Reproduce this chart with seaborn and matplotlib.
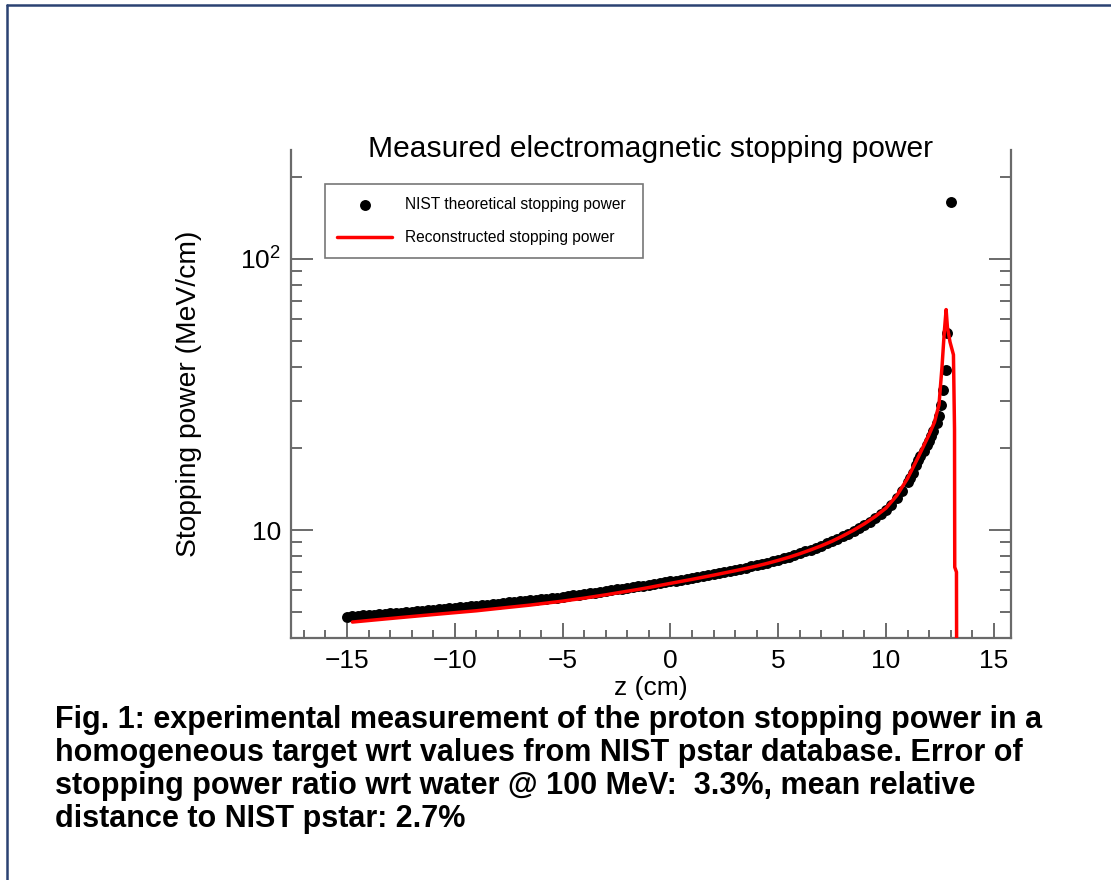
import numpy as np
import pandas as pd
import seaborn as sns
from matplotlib import pyplot as plt
from matplotlib.lines import Line2D
from matplotlib.ticker import MultipleLocator, LogLocator, NullFormatter

# NIST pstar theoretical stopping power
nist_z = [-15.0, -14.75, -14.5, -14.25, -14.0, -13.75, -13.5, -13.25, -13.0, -12.75,
          -12.5, -12.25, -12.0, -11.75, -11.5, -11.25, -11.0, -10.75, -10.5, -10.25,
          -10.0, -9.75, -9.5, -9.25, -9.0, -8.75, -8.5, -8.25, -8.0, -7.75,
          -7.5, -7.25, -7.0, -6.75, -6.5, -6.25, -6.0, -5.75, -5.5, -5.25,
          -5.0, -4.75, -4.5, -4.25, -4.0, -3.75, -3.5, -3.25, -3.0, -2.75,
          -2.5, -2.25, -2.0, -1.75, -1.5, -1.25, -1.0, -0.75, -0.5, -0.25,
          0.0, 0.25, 0.5, 0.75, 1.0, 1.25, 1.5, 1.75, 2.0, 2.25,
          2.5, 2.75, 3.0, 3.25, 3.5, 3.75, 4.0, 4.25, 4.5, 4.75,
          5.0, 5.25, 5.5, 5.75, 6.0, 6.25, 6.5, 6.75, 7.0, 7.25,
          7.5, 7.75, 8.0, 8.25, 8.5, 8.75, 9.0, 9.25, 9.5, 9.75,
          10.0, 10.25, 10.5, 10.75, 11.0, 11.1, 11.25, 11.4, 11.5, 11.6,
          11.75, 11.9, 12.0, 12.1, 12.2, 12.35, 12.46, 12.54, 12.66, 12.79,
          12.85, 13.02]
nist_sp = [4.79, 4.81, 4.83, 4.845, 4.86, 4.875, 4.89, 4.91, 4.93, 4.945,
           4.96, 4.98, 5.00, 5.02, 5.04, 5.06, 5.08, 5.10, 5.12, 5.14,
           5.16, 5.185, 5.21, 5.235, 5.26, 5.28, 5.30, 5.325, 5.35, 5.38,
           5.41, 5.435, 5.46, 5.48, 5.50, 5.525, 5.55, 5.58, 5.61, 5.64,
           5.67, 5.71, 5.75, 5.78, 5.81, 5.845, 5.88, 5.92, 5.96, 6.00,
           6.04, 6.08, 6.12, 6.16, 6.20, 6.245, 6.29, 6.335, 6.38, 6.425,
           6.47, 6.515, 6.56, 6.61, 6.66, 6.715, 6.77, 6.825, 6.88, 6.94,
           7.00, 7.065, 7.13, 7.20, 7.27, 7.345, 7.42, 7.505, 7.59, 7.685,
           7.78, 7.88, 7.98, 8.10, 8.22, 8.345, 8.47, 8.615, 8.76, 8.925,
           9.09, 9.285, 9.48, 9.70, 9.92, 10.18, 10.44, 10.72, 11.06, 11.43,
           11.83, 12.36, 13.09, 13.91, 14.98, 15.5, 16.2, 17.4, 18.2, 18.8,
           19.5, 20.6, 21.3, 22.2, 23.2, 24.8, 26.4, 28.9, 32.8, 38.9,
           53.2, 162.6]

# reconstructed stopping power
reco_z = [-14.75, -14.5, -14.0, -13.5, -13.0, -12.5, -12.0, -11.5, -11.0, -10.5,
          -10.0, -9.5, -9.0, -8.5, -8.0, -7.5, -7.0, -6.5, -6.0, -5.5,
          -5.0, -4.5, -4.0, -3.5, -3.0, -2.5, -2.0, -1.5, -1.0, -0.5,
          0.0, 0.5, 1.0, 1.5, 2.0, 2.5, 3.0, 3.5, 4.0, 4.5,
          5.0, 5.5, 6.0, 6.5, 7.0, 7.5, 8.0, 8.5, 9.0, 9.5,
          10.0, 10.5, 11.0, 11.5, 12.0, 12.25, 12.46, 12.6, 12.7, 12.79,
          12.85, 12.97, 13.13, 13.18, 13.19, 13.27, 13.28]
reco_sp = [4.58, 4.60, 4.64, 4.68, 4.72, 4.76, 4.80, 4.84, 4.88, 4.92,
           4.96, 5.00, 5.04, 5.09, 5.14, 5.19, 5.24, 5.29, 5.35, 5.41,
           5.47, 5.54, 5.61, 5.69, 5.77, 5.86, 5.95, 6.04, 6.14, 6.25,
           6.36, 6.47, 6.58, 6.70, 6.82, 6.95, 7.08, 7.22, 7.37, 7.54,
           7.73, 7.94, 8.18, 8.45, 8.75, 9.10, 9.52, 9.99, 10.55, 11.22,
           12.05, 13.4, 15.5, 18.6, 22.5, 25.0, 29.0, 40.0, 53.0, 65.0,
           56.0, 49.4, 44.3, 23.5, 7.3, 7.0, 3.0]

x_ticks = [-15, -10, -5, 0, 5, 10, 15]
y_ticks = [10, 100]
y_tick_labels = ["10", "10$^2$"]

caption = [
    "Fig. 1: experimental measurement of the proton stopping power in a",
    "homogeneous target wrt values from NIST pstar database. Error of",
    "stopping power ratio wrt water @ 100 MeV:  3.3%, mean relative",
    "distance to NIST pstar: 2.7%",
]


def plot_stopping_power():
    nist = pd.DataFrame({"z": nist_z, "sp": nist_sp})
    reco = pd.DataFrame({"z": reco_z, "sp": reco_sp})

    sns.set_style("ticks")
    plt.rcParams["font.family"] = ["Liberation Sans", "DejaVu Sans"]
    plt.rcParams["mathtext.default"] = "regular"
    plt.rcParams["text.color"] = "black"
    plt.rcParams["axes.labelcolor"] = "black"
    plt.rcParams["xtick.labelcolor"] = "black"
    plt.rcParams["ytick.labelcolor"] = "black"

    fig = plt.figure(figsize=(11.11, 8.8), dpi=100)
    ax = fig.add_axes([291 / 1111, 1 - 638 / 880, 720 / 1111, 488 / 880])

    sns.scatterplot(data=nist, x="z", y="sp", ax=ax, color="black", s=62,
                    linewidth=0, zorder=2, label="NIST theoretical stopping power")
    sns.lineplot(data=reco, x="z", y="sp", ax=ax, color="red", linewidth=2.5,
                 estimator=None, sort=False, zorder=3,
                 label="Reconstructed stopping power")

    ax.set_yscale("log")
    ax.set_xlim(-17.6, 15.8)
    ax.set_ylim(4.0, 252)
    ax.set_xticks(x_ticks)
    ax.xaxis.set_minor_locator(MultipleLocator(1))
    ax.set_yticks(y_ticks)
    ax.set_yticklabels(y_tick_labels)
    ax.yaxis.set_minor_locator(LogLocator(base=10, subs=np.arange(2, 10)))
    ax.yaxis.set_minor_formatter(NullFormatter())

    grey = "#6a6a6a"
    for side in ["left", "bottom", "right"]:
        ax.spines[side].set_color(grey)
        ax.spines[side].set_linewidth(1.6)
    ax.spines["top"].set_visible(False)

    ax.tick_params(axis="both", which="both", direction="in", color=grey,
                   labelsize=19, width=1.4)
    ax.tick_params(axis="x", which="major", length=11, pad=8, top=False)
    ax.tick_params(axis="x", which="minor", length=5.5, top=False)
    ax.tick_params(axis="y", which="major", length=16, pad=7, right=True)
    ax.tick_params(axis="y", which="minor", length=8, right=True)

    ax.set_xlabel("z (cm)", fontsize=19, labelpad=2)
    ax.set_ylabel("Stopping power (MeV/cm)", fontsize=20.3, labelpad=28)
    fig.text(651 / 1111, 1 - 157 / 880, "Measured electromagnetic stopping power",
             fontsize=21.6, ha="center", va="baseline")

    leg = ax.legend(loc="lower left", bbox_to_anchor=(0.047, 0.779, 0.442, 0.153),
                    mode="expand", fontsize=11.2, frameon=True, fancybox=False,
                    edgecolor="#555555", borderpad=0.8, labelspacing=1.2,
                    handlelength=3.5, handletextpad=0.85, borderaxespad=0)
    leg.get_frame().set_linewidth(1.2)

    for i, line in enumerate(caption):
        fig.text(55 / 1111, 1 - (720 + 33 * i) / 880, line, fontsize=22,
                 fontweight="bold", ha="left", va="center")

    # slide frame
    navy = "#2b4272"
    fig.add_artist(Line2D([7 / 1111, 1], [1 - 5 / 880, 1 - 5 / 880],
                          transform=fig.transFigure, color=navy, linewidth=1.8))
    fig.add_artist(Line2D([7 / 1111, 7 / 1111], [0, 1 - 5 / 880],
                          transform=fig.transFigure, color=navy, linewidth=1.8))

    fig.savefig("out.png", dpi=100)


plot_stopping_power()
